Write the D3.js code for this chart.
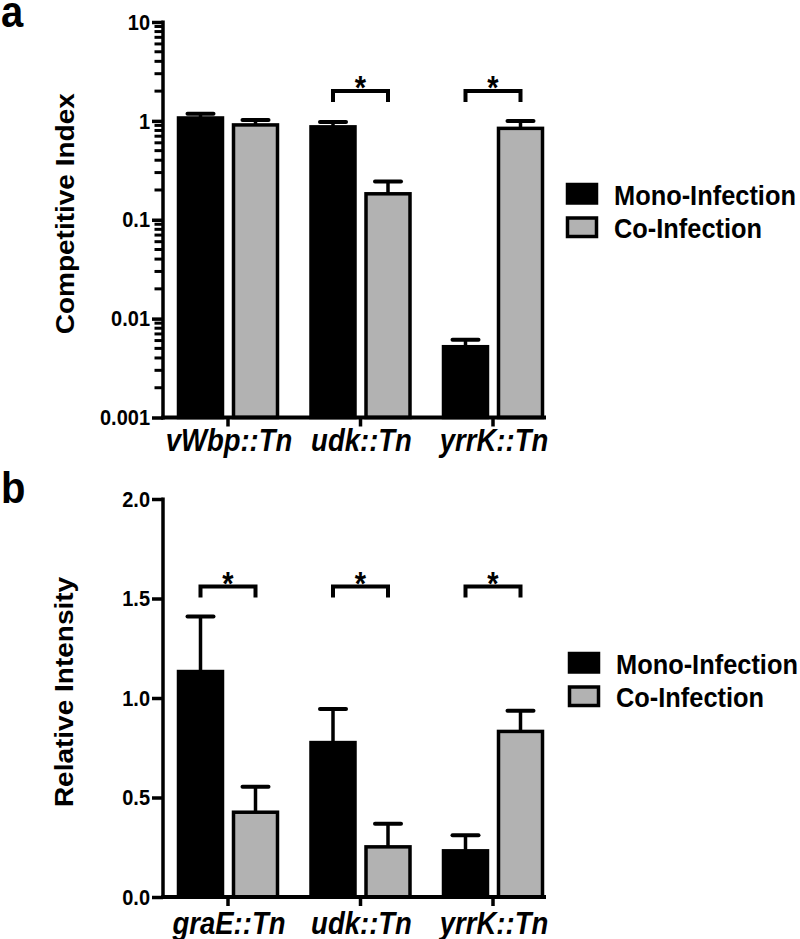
<!DOCTYPE html>
<html>
<head>
<meta charset="utf-8">
<script src="https://cdn.jsdelivr.net/npm/d3@7"></script>
<style>
  html, body { margin: 0; padding: 0; background: #fff; }
  svg { display: block; }
  text { font-family: "Liberation Sans", Arial, sans-serif; font-weight: bold; fill: #000; }
</style>
</head>
<body>
<svg id="chart" width="800" height="939"></svg>
<script>
// ---------- DATA ----------
const seriesNames = ["Mono-Infection", "Co-Infection"];

const catsA = ["vWbp::Tn", "udk::Tn", "yrrK::Tn"];
const monoA = [1.07, 0.87, 0.0052];
const monoAErr = [1.18, 0.975, 0.0061];
const coA = [0.91, 0.183, 0.84];
const coAErr = [1.02, 0.243, 1.0];
const sigA = [1, 2];          // groups with bracket
const sigALevel = 2.0;
const ticksA = [0.001, 0.01, 0.1, 1, 10];
const tickLabelsA = ["0.001", "0.01", "0.1", "1", "10"];
const minorTicksA = [0.002, 0.003, 0.004, 0.005, 0.006, 0.007, 0.008, 0.009,
                     0.02, 0.03, 0.04, 0.05, 0.06, 0.07, 0.08, 0.09,
                     0.2, 0.3, 0.4, 0.5, 0.6, 0.7, 0.8, 0.9,
                     2, 3, 4, 5, 6, 7, 8, 9];

const catsB = ["graE::Tn", "udk::Tn", "yrrK::Tn"];
const monoB = [1.133, 0.776, 0.232];
const monoBErr = [1.41, 0.945, 0.31];
const coB = [0.426, 0.252, 0.832];
const coBErr = [0.554, 0.368, 0.936];
const sigB = [0, 1, 2];
const sigBLevel = 1.56;
const ticksB = [0, 0.5, 1.0, 1.5, 2.0];
const tickLabelsB = ["0.0", "0.5", "1.0", "1.5", "2.0"];

// ---------- STYLE ----------
const K = 1.12;               // vertical text stretch of the original figure
const colors = ["#000000", "#b2b2b2"];
const svg = d3.select("#chart");

function txt(g, x, y, s, size, opts = {}) {
  const t = g.append("text")
    .attr("transform", `translate(${x},${y})` + (opts.rotate ? ` rotate(-90) scale(${K},1)` : ` scale(1,${K})`))
    .attr("font-size", size)
    .attr("text-anchor", opts.anchor || "start")
    .text(s);
  if (opts.italic) t.attr("font-style", "italic");
  return t;
}

function panel(cfg) {
  const g = svg.append("g");
  const axisX = 163, axisEnd = 546;
  const y = cfg.y;
  const x = d3.scaleBand().domain(cfg.cats).range([161.75, 559.25]).padding(0);
  const xs = d3.scaleBand().domain(seriesNames).range([-51, 51]).paddingInner(0.1455).paddingOuter(0);
  const center = c => x(c) + x.bandwidth() / 2;
  const base = y.range()[0];

  // bars
  const rows = [];
  cfg.cats.forEach((c, i) => {
    rows.push({ c, s: seriesNames[0], v: cfg.mono[i], e: cfg.monoErr[i], col: colors[0] });
    rows.push({ c, s: seriesNames[1], v: cfg.co[i], e: cfg.coErr[i], col: colors[1] });
  });
  const bw = xs.bandwidth();
  rows.forEach(d => {
    const cx = center(d.c) + xs(d.s) + bw / 2;
    g.append("line").attr("x1", cx).attr("x2", cx).attr("y1", y(d.v)).attr("y2", y(d.e))
      .attr("stroke", "#000").attr("stroke-width", 3.5);
    g.append("line").attr("x1", cx - 13).attr("x2", cx + 13).attr("y1", y(d.e)).attr("y2", y(d.e))
      .attr("stroke", "#000").attr("stroke-width", 4).attr("stroke-linecap", "round");
  });
  g.selectAll("rect.bar").data(rows).join("rect").attr("class", "bar")
    .attr("x", d => center(d.c) + xs(d.s) + 1.5)
    .attr("width", bw - 3)
    .attr("y", d => y(d.v))
    .attr("height", d => base - y(d.v))
    .attr("fill", d => d.col)
    .attr("stroke", "#000").attr("stroke-width", 3.5);

  // y axis (major)
  const ya = d3.axisLeft(y).tickValues(cfg.ticks).tickSize(11).tickPadding(2)
    .tickFormat((d, i) => cfg.tickLabels[i]);
  const yg = g.append("g").attr("transform", `translate(${axisX},0)`).call(ya);
  yg.select(".domain").remove();
  yg.selectAll(".tick line").attr("stroke", "#000").attr("stroke-width", 3.5);
  yg.selectAll(".tick text").attr("font-size", 20).attr("font-family", "Liberation Sans, Arial, sans-serif")
    .attr("font-weight", "bold").attr("fill", "#000")
    .attr("transform", `scale(1,${K})`);
  // y axis (minor ticks, log panel)
  if (cfg.minor) {
    g.append("g").selectAll("line").data(cfg.minor).join("line")
      .attr("x1", axisX).attr("x2", axisX - 8.5)
      .attr("y1", d => y(d)).attr("y2", d => y(d))
      .attr("stroke", "#000").attr("stroke-width", 3);
  }
  g.append("line").attr("x1", axisX).attr("x2", axisX).attr("y1", y.range()[1] - 1.5).attr("y2", base + 2)
    .attr("stroke", "#000").attr("stroke-width", 3.5);

  // x axis
  const xa = d3.axisBottom(x).tickSize(9).tickFormat(() => "");
  const xg = g.append("g").attr("transform", `translate(0,${base})`).call(xa);
  xg.select(".domain").remove();
  xg.selectAll(".tick line").attr("stroke", "#000").attr("stroke-width", 3.5);
  g.append("line").attr("x1", axisX - 1.75).attr("x2", axisEnd).attr("y1", base).attr("y2", base)
    .attr("stroke", "#000").attr("stroke-width", 4);
  cfg.cats.forEach(c => txt(g, center(c) + 1, base + cfg.labelDy, c, 27.5, { anchor: "middle", italic: true }));

  // significance brackets
  const yb = y(cfg.sigLevel);
  cfg.sig.forEach(i => {
    const c = cfg.cats[i];
    const x1 = center(c) + xs(seriesNames[0]) + bw / 2;
    const x2 = center(c) + xs(seriesNames[1]) + bw / 2;
    g.append("path").attr("d", `M${x1},${yb + 11}V${yb}H${x2}V${yb + 11}`)
      .attr("fill", "none").attr("stroke", "#000").attr("stroke-width", 4);
    txt(g, (x1 + x2) / 2, yb + 8, "*", 29, { anchor: "middle" });
  });

  // axis title
  txt(g, cfg.titleX, (y.range()[0] + y.range()[1]) / 2 - 6, cfg.title, 25, { anchor: "middle", rotate: true });
  // panel letter
  txt(g, 1, cfg.letterY, cfg.letter, 40);

  // legend
  seriesNames.forEach((s, i) => {
    const ly = cfg.legendY + i * 33.5;
    g.append("rect").attr("x", cfg.legendX + 1.5).attr("y", ly + 1.5).attr("width", 29).attr("height", 18.5)
      .attr("fill", colors[i]).attr("stroke", "#000").attr("stroke-width", 3.5);
    txt(g, cfg.legendX + 48, ly + 21.5, s, 25.4);
  });
}

panel({
  cats: catsA, mono: monoA, monoErr: monoAErr, co: coA, coErr: coAErr,
  y: d3.scaleLog().domain([0.001, 10]).range([417.5, 22]),
  ticks: ticksA, tickLabels: tickLabelsA, minor: minorTicksA,
  sig: sigA, sigLevel: sigALevel,
  title: "Competitive Index", titleX: 74, letter: "a", letterY: 26.5,
  legendX: 566, legendY: 183, labelDy: 33
});

panel({
  cats: catsB, mono: monoB, monoErr: monoBErr, co: coB, coErr: coBErr,
  y: d3.scaleLinear().domain([0, 2]).range([897, 499]),
  ticks: ticksB, tickLabels: tickLabelsB, minor: null,
  sig: sigB, sigLevel: sigBLevel,
  title: "Relative Intensity", titleX: 73, letter: "b", letterY: 503,
  legendX: 568, legendY: 652, labelDy: 37
});
</script>
</body>
</html>
